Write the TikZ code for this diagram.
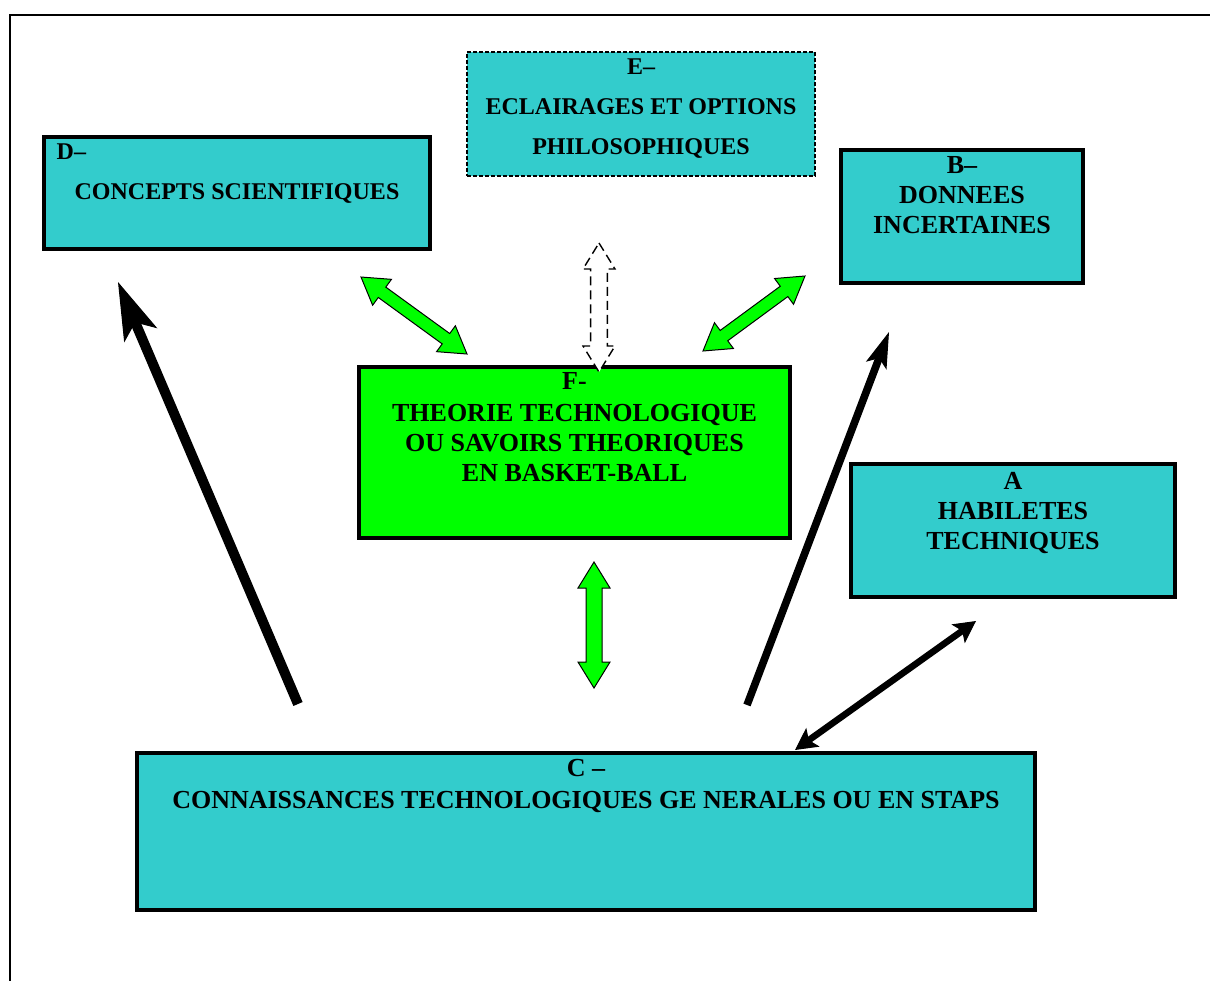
\documentclass[tikz,border=0pt]{standalone}
\usepackage{fontspec}
\setmainfont{Liberation Serif}
\usetikzlibrary{arrows.meta,positioning,calc,fit}
\definecolor{boxCyan}{HTML}{33CCCC}
\definecolor{theoGreen}{HTML}{00FF00}

% double block arrow: #1 style, #2 and #3 ends, #4 half width of the shaft
\newcommand{\blockarrow}[4][]{%
  \filldraw[#1] (#2)
    -- ($(#2)!13pt!(#3)!8pt!90:(#3)$)
    -- ($(#2)!13pt!(#3)!#4!90:(#3)$)
    -- ($(#3)!13pt!(#2)!#4!-90:(#2)$)
    -- ($(#3)!13pt!(#2)!8pt!-90:(#2)$)
    -- (#3)
    -- ($(#3)!13pt!(#2)!8pt!90:(#2)$)
    -- ($(#3)!13pt!(#2)!#4!90:(#2)$)
    -- ($(#2)!13pt!(#3)!#4!-90:(#3)$)
    -- ($(#2)!13pt!(#3)!8pt!-90:(#3)$)
    -- cycle;}

\begin{document}
\begin{tikzpicture}[x=0.5pt, y=-0.5pt,
    box/.style={draw, line width=1.7pt, fill=boxCyan, inner sep=0pt},
    lbl/.style={font=\fontsize{13}{15}\selectfont\bfseries, align=center, inner sep=0pt},
    slbl/.style={font=\fontsize{12}{20}\selectfont\bfseries, align=center, inner sep=0pt},
    garrow/.style={fill=theoGreen, draw=black, line width=0.5pt, line join=miter}]

    \useasboundingbox (0,0) rectangle (1210,980);
    % frame, runs off the page on the right and at the bottom
    \draw[line width=1.2pt] (10,1000) -- (10,15) -- (1230,15);

    % boxes
    \node[box, fit={(44,137) (430,249)}] (D) {};
    \node[box, line width=0.9pt, dash pattern=on 2pt off 1pt,
          fit={(467,52) (815,176)}] (E) {};
    \node[box, fit={(841,150) (1083,283)}] (B) {};
    \node[box, fill=theoGreen, line width=2pt, fit={(359,367) (790,538)}] (F) {};
    \node[box, fit={(851,464) (1175,597)}] (A) {};
    \node[box, fit={(137,753) (1035,910)}] (C) {};

    \node[slbl, below right=4pt and 7pt of D.north west] (Dtag) {D–};
    \node[slbl, below=24pt of D.north] (Dtxt) {CONCEPTS SCIENTIFIQUES};
    \node[slbl, below=3.5pt of E.north] (Etxt)
        {E–\\ECLAIRAGES ET OPTIONS\\PHILOSOPHIQUES};
    \node[lbl, below=4pt of B.north] (Btxt) {B–\\DONNEES\\INCERTAINES};
    \node[lbl, below=3.5pt of F.north] (Ftxt)
        {F-\\[1pt]THEORIE TECHNOLOGIQUE\\OU SAVOIRS THEORIQUES\\EN BASKET-BALL};
    \node[lbl, below=5pt of A.north] (Atxt) {A\\HABILETES\\TECHNIQUES};
    \node[lbl, below=4pt of C.north] (Ctxt)
        {C –\\[1pt]CONNAISSANCES TECHNOLOGIQUES GE NERALES OU EN STAPS};

    % arrow ends
    \coordinate (dfA) at (361,277);  \coordinate (dfB) at (467,354);
    \coordinate (bfA) at (805,276);  \coordinate (bfB) at (703,351);
    \coordinate (fcA) at (594,562);  \coordinate (fcB) at (594,688);
    \coordinate (feA) at (599,243);  \coordinate (feB) at (599,372);
    \coordinate (cdTail) at (298,704); \coordinate (cdTip) at (118,282);
    \coordinate (cbTail) at (747,705); \coordinate (cbTip) at (889,332);
    \coordinate (caA) at (795,750);  \coordinate (caB) at (976,621);

    \blockarrow[garrow]{dfA}{dfB}{3.2pt}
    \blockarrow[garrow]{bfA}{bfB}{3.2pt}
    \blockarrow[garrow]{fcA}{fcB}{4pt}
    \blockarrow[fill=white, draw=black, line width=0.7pt,
                dash pattern=on 4.5pt off 2.5pt]{feA}{feB}{4.2pt}

    \draw[line width=5pt,
          -{Stealth[length=29pt, width=18pt, inset=7pt, line width=0.5pt]}]
        (cdTail) -- (cdTip);
    \draw[line width=3.8pt,
          -{Stealth[length=18pt, width=11pt, inset=4pt, line width=0.5pt]}]
        (cbTail) -- (cbTip);
    \draw[line width=3.3pt,
          {Stealth[length=11pt, width=11.5pt, inset=2.5pt, line width=0.5pt]}-{Stealth[length=11pt, width=11.5pt, inset=2.5pt, line width=0.5pt]}]
        (caA) -- (caB);
\end{tikzpicture}
\end{document}
